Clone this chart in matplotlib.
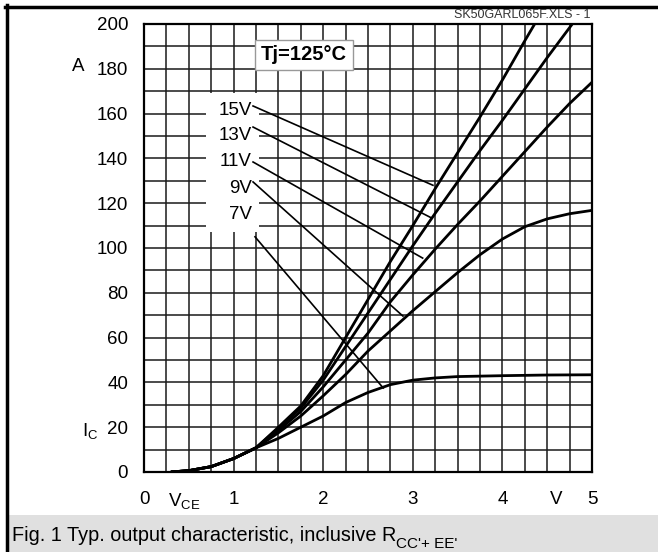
import matplotlib
matplotlib.use("Agg")
import matplotlib.pyplot as plt
from matplotlib.patches import Rectangle
from matplotlib.lines import Line2D
from matplotlib.ticker import MultipleLocator

plt.rcParams['font.family'] = ['Liberation Sans', 'DejaVu Sans']
plt.rcParams['mathtext.fontset'] = 'custom'
plt.rcParams['mathtext.rm'] = 'Liberation Sans'
plt.rcParams['mathtext.it'] = 'Liberation Sans:italic'
plt.rcParams['mathtext.bf'] = 'Liberation Sans:bold'

# output curves: V_CE (V) -> I_C (A)
vce_start = [0.3, 0.5, 0.75, 1.0, 1.25]
ic_start = [0, 0.6, 2.4, 6, 10.8]

vce_7 = vce_start + [1.5, 1.75, 2.0, 2.25, 2.5, 2.75, 3.0, 3.25, 3.5, 4.0, 4.5, 5.0]
ic_7 = ic_start + [15, 20, 25, 31, 35.5, 39, 41, 42, 42.6, 43, 43.3, 43.4]

vce_9 = vce_start + [1.5, 1.75, 2.0, 2.25, 2.5, 2.75, 3.0, 3.25, 3.5, 3.75, 4.0, 4.25, 4.5, 4.75, 5.0]
ic_9 = ic_start + [17.5, 25, 34, 43.5, 54, 63, 72, 80.5, 89, 97, 104, 109.5, 113, 115.3, 116.8]

vce_11 = vce_start + [1.5, 1.75, 2.0, 2.25, 2.5, 2.75, 3.0, 3.25, 3.5, 3.75, 4.0, 4.25, 4.5, 4.75, 5.0]
ic_11 = ic_start + [18.5, 27, 38, 50, 62, 76, 88, 99.5, 110.5, 121, 132, 143, 154, 164.5, 174]

vce_13 = vce_start + [1.5, 1.75, 2.0, 2.25, 2.5, 2.75, 3.0, 3.25, 3.5, 3.75, 4.0, 4.25, 4.5, 4.78]
ic_13 = ic_start + [19.5, 28.5, 41, 56, 71, 86, 101, 115.5, 129.5, 143.5, 157, 171, 185, 200]

vce_15 = vce_start + [1.5, 1.75, 2.0, 2.25, 2.5, 2.75, 3.0, 3.25, 3.5, 3.75, 4.0, 4.25, 4.36]
ic_15 = ic_start + [20, 29.5, 43, 60, 77, 94, 110, 126.5, 142.5, 158.5, 175, 192.5, 200]

# labels and their leader lines: (text, text y, start x, start y, end x, end y)
gate_labels = ["15V", "13V", "11V", "9V", "7V"]
label_y = [161.4, 150.4, 138.6, 126.6, 115]
lead_x0 = [1.217, 1.217, 1.217, 1.217, 1.239]
lead_y0 = [163.4, 154, 138.4, 129.5, 105]
lead_x1 = [3.225, 3.21, 3.11, 2.89, 2.67]
lead_y1 = [128, 113.4, 95.5, 69.6, 37.5]

x_ticks = [0, 0.45, 1, 2, 3, 4, 4.6, 5]
x_ticklabels = ['0', r'$\mathregular{V_{CE}}$', '1', '2', '3', '4', 'V', '5']
y_ticks = list(range(0, 201, 20))

fig = plt.figure(figsize=(6.58, 5.52), dpi=100)
ax = fig.add_axes([144 / 658, 80 / 552, 448 / 658, 448 / 552])

for vx, iy in [(vce_7, ic_7), (vce_9, ic_9), (vce_11, ic_11), (vce_13, ic_13), (vce_15, ic_15)]:
    ax.plot(vx, iy, color='black', lw=2.0, zorder=3, solid_capstyle='butt')

ax.set_xlim(0, 5)
ax.set_ylim(0, 200)
ax.xaxis.remove_overlapping_locs = False
ax.yaxis.remove_overlapping_locs = False
ax.xaxis.set_minor_locator(MultipleLocator(0.25))
ax.yaxis.set_minor_locator(MultipleLocator(10))
ax.set_axisbelow(True)
ax.grid(which='minor', color='#1a1a1a', lw=1.1)
ax.grid(which='major', visible=False)
ax.set_xticks(x_ticks)
ax.set_xticklabels(x_ticklabels)
ax.set_yticks(y_ticks)
ax.tick_params(which='both', length=0)
ax.tick_params(axis='x', pad=14, labelsize=13.5)
ax.tick_params(axis='y', pad=11.5, labelsize=13.5)
for s in ax.spines.values():
    s.set_linewidth(1.6)

# white patch behind the gate voltage labels
ax.add_patch(Rectangle((0.69, 107), 0.59, 62, facecolor='white', edgecolor='none', zorder=1))
for t, ty, x0, y0, x1, y1 in zip(gate_labels, label_y, lead_x0, lead_y0, lead_x1, lead_y1):
    ax.text(1.205, ty, t, ha='right', va='center', fontsize=13.5, zorder=4)
    ax.plot([x0, x1], [y0, y1], color='black', lw=1.2, zorder=3)

# temperature box
ax.add_patch(Rectangle((1.24, 179.5), 1.09, 13.4, facecolor='white', edgecolor='#999999', lw=1, zorder=4))
ax.text(1.785, 186.2, 'Tj=125°C', ha='center', va='center', fontsize=14.5, fontweight='bold', zorder=5)

# axis unit labels
ax.text(-0.147, 181, 'A', transform=ax.get_yaxis_transform(), ha='center', va='center', fontsize=13.5)
ax.text(-0.12, 18.5, r'$\mathregular{I_C}$', transform=ax.get_yaxis_transform(), ha='center', va='center', fontsize=13.5)

fig.text(590 / 658, 1 - 15 / 552, 'SK50GARL065F.XLS - 1', ha='right', va='center', fontsize=9, color='#333333')

# caption strip and frame
fig.patches.append(Rectangle((7 / 658, 0), 1, 37 / 552, transform=fig.transFigure, facecolor='#e0e0e0', edgecolor='none'))
fig.lines.append(Line2D([5 / 658, 1], [1 - 6.5 / 552, 1 - 6.5 / 552], transform=fig.transFigure, color='black', lw=2.5))
fig.lines.append(Line2D([6.5 / 658, 6.5 / 658], [0, 1 - 5 / 552], transform=fig.transFigure, color='black', lw=2.5))

cap = fig.text(12 / 658, 11 / 552, 'Fig. 1 Typ. output characteristic, inclusive R', ha='left', va='baseline', fontsize=14.3)
fig.canvas.draw()
bb = cap.get_window_extent(fig.canvas.get_renderer())
fig.text(bb.x1 / fig.bbox.width, 4 / 552, "CC'+ EE'", ha='left', va='baseline', fontsize=11)

fig.savefig('out.png', dpi=100)
